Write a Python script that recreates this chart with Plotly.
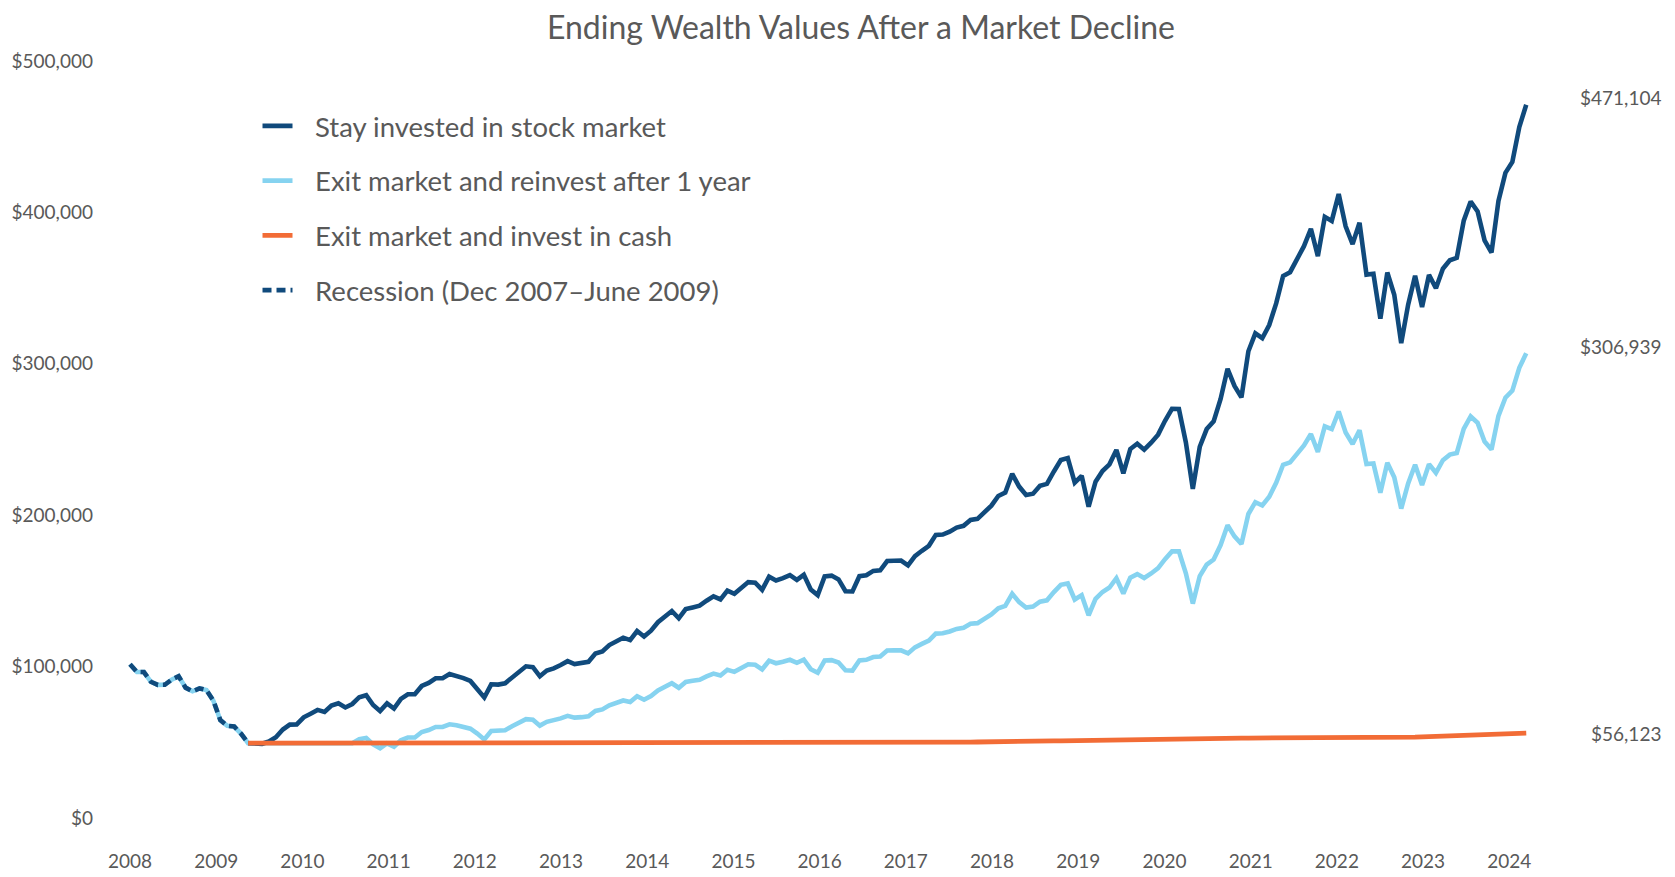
import plotly.graph_objects as go

# ---------------- data (values in thousands of US dollars) ----------------
# Recession segment (market decline), one point per period from the 2007 peak to the low
recession_k = [101.5, 96.4, 96.4, 90.0, 87.9, 88.0, 91.4, 93.6, 86.1, 83.7,
               85.6, 84.5, 77.5, 64.7, 60.9, 60.4, 55.6, 49.4]

# Stay invested in stock market: starts at the low (period index 17)
stay_start = 17
stay_k = [49.4, 49.3, 49.0, 50.5,
          # 2009 Mar-Dec
          53.3, 58.4, 61.7, 61.8, 66.5, 68.9, 71.4, 70.1, 74.3, 75.8,
          # 2010
          73.0, 75.3, 79.8, 81.1, 74.6, 70.7, 75.7, 72.3, 78.7, 81.7, 81.7, 87.2,
          # 2011
          89.2, 92.3, 92.3, 95.1, 94.0, 92.4, 90.5, 85.6, 79.6, 88.3, 88.1, 89.0,
          # 2012
          93.0, 97.0, 100.2, 99.6, 93.6, 97.4, 98.8, 101.0, 103.6, 101.7, 102.3, 103.2,
          # 2013
          108.6, 110.0, 114.2, 116.4, 119.1, 117.5, 123.5, 119.9, 123.7, 129.3, 133.3, 136.7,
          # 2014
          131.9, 138.0, 139.1, 140.2, 143.5, 146.4, 144.4, 150.2, 148.1, 151.7, 155.8, 155.4,
          # 2015
          150.7, 159.4, 156.9, 158.4, 160.4, 157.3, 160.6, 150.9, 147.2, 159.6, 160.1, 157.6,
          # 2016
          149.8, 149.6, 159.7, 160.3, 163.2, 163.6, 169.7, 169.9, 170.0, 166.9, 173.0, 176.5,
          # 2017
          179.8, 187.0, 187.2, 189.1, 191.8, 193.0, 196.9, 197.6, 201.6, 206.3, 212.7, 215.0,
          # 2018
          227.3, 218.9, 213.4, 214.2, 219.4, 220.7, 228.9, 236.4, 237.7, 221.5, 226.0, 205.6,
          # 2019
          222.1, 229.2, 233.6, 243.1, 227.7, 243.7, 247.2, 243.3, 247.9, 253.2, 262.4, 270.3,
          # 2020
          270.2, 248.0, 217.4, 245.2, 256.9, 262.0, 276.8, 296.7, 285.4, 277.8, 308.3, 320.1,
          # 2021
          316.9, 325.6, 339.9, 358.0, 360.5, 368.9, 377.7, 389.2, 371.1, 397.1, 394.4, 412.1,
          # 2022
          390.8, 379.1, 393.1, 358.9, 359.5, 329.8, 360.3, 345.6, 313.7, 339.1, 358.1, 337.5,
          # 2023
          358.7, 349.9, 362.8, 368.4, 370.0, 394.5, 407.1, 400.6, 381.5, 373.5, 407.6, 426.1,
          # 2024 Jan-Mar
          433.3, 456.4, 471.1]

# Exit market and reinvest after 1 year: full history from period index 0
reinvest_k = [101.5, 96.4, 96.4, 90.0, 87.9, 88.0, 91.4, 93.6, 86.1, 83.7,
              85.6, 84.5, 77.5, 64.7, 60.9, 60.4, 55.6, 49.4,
              # held in cash for one year
              49.4, 49.4, 49.4, 49.4, 49.4, 49.4, 49.4, 49.4, 49.4, 49.4, 49.4, 49.4, 49.4, 49.4,
              # 2010 Feb-Dec (reinvested)
              49.4, 52.0, 52.8, 48.6, 46.1, 49.3, 47.1, 51.3, 53.2, 53.2, 56.8,
              # 2011
              58.1, 60.1, 60.2, 61.9, 61.2, 60.2, 59.0, 55.8, 51.9, 57.5, 57.4, 58.0,
              # 2012
              60.6, 63.2, 65.3, 64.9, 61.0, 63.5, 64.4, 65.8, 67.5, 66.3, 66.6, 67.2,
              # 2013
              70.7, 71.7, 74.4, 75.8, 77.6, 76.6, 80.4, 78.1, 80.6, 84.3, 86.8, 89.0,
              # 2014
              86.0, 89.9, 90.6, 91.3, 93.5, 95.4, 94.1, 97.9, 96.5, 98.8, 101.5, 101.2,
              # 2015
              98.2, 103.9, 102.2, 103.2, 104.5, 102.5, 104.6, 98.3, 95.9, 104.0, 104.3, 102.7,
              # 2016
              97.6, 97.4, 104.1, 104.5, 106.3, 106.6, 110.6, 110.7, 110.7, 108.7, 112.7, 115.0,
              # 2017
              117.2, 121.8, 122.0, 123.2, 124.9, 125.7, 128.3, 128.7, 131.4, 134.4, 138.5, 140.1,
              # 2018
              148.1, 142.6, 139.0, 139.6, 142.9, 143.8, 149.2, 154.0, 154.9, 144.3, 147.2, 133.9,
              # 2019
              144.7, 149.3, 152.2, 158.4, 148.3, 158.8, 161.1, 158.5, 161.5, 165.0, 171.0, 176.1,
              # 2020
              176.1, 161.6, 141.6, 159.8, 167.4, 170.7, 180.3, 193.3, 186.0, 181.0, 200.8, 208.6,
              # 2021
              206.4, 212.2, 221.4, 233.3, 234.9, 240.4, 246.1, 253.6, 241.8, 258.7, 256.9, 268.5,
              # 2022
              254.6, 247.0, 256.1, 233.8, 234.2, 214.9, 234.7, 225.1, 204.4, 221.0, 233.3, 219.9,
              # 2023
              233.7, 228.0, 236.3, 240.0, 241.1, 257.0, 265.2, 261.0, 248.6, 243.4, 265.6, 277.6,
              # 2024 Jan-Mar
              282.3, 297.4, 306.9]

# Exit market and invest in cash: starts at the low (period index 17)
cash_start = 17
cash_k = [49.4, 49.4, 49.4, 49.4,
          # 2009 Mar-Dec
          49.4, 49.4, 49.4, 49.4, 49.4, 49.4, 49.4, 49.4, 49.4, 49.4,
          # 2010
          49.4, 49.4, 49.4, 49.4, 49.4, 49.4, 49.5, 49.5, 49.5, 49.5, 49.5, 49.5,
          # 2011
          49.5, 49.5, 49.5, 49.5, 49.5, 49.5, 49.5, 49.5, 49.5, 49.5, 49.5, 49.5,
          # 2012
          49.5, 49.5, 49.5, 49.5, 49.5, 49.5, 49.6, 49.6, 49.6, 49.6, 49.6, 49.6,
          # 2013
          49.6, 49.6, 49.6, 49.6, 49.6, 49.6, 49.6, 49.6, 49.6, 49.6, 49.6, 49.6,
          # 2014
          49.6, 49.6, 49.6, 49.6, 49.6, 49.6, 49.6, 49.6, 49.6, 49.6, 49.6, 49.6,
          # 2015
          49.6, 49.6, 49.6, 49.6, 49.6, 49.6, 49.6, 49.6, 49.6, 49.6, 49.6, 49.7,
          # 2016
          49.7, 49.7, 49.7, 49.7, 49.7, 49.8, 49.8, 49.8, 49.8, 49.8, 49.9, 49.9,
          # 2017
          49.9, 49.9, 50.0, 50.0, 50.0, 50.1, 50.1, 50.2, 50.2, 50.3, 50.3, 50.4,
          # 2018
          50.4, 50.5, 50.6, 50.6, 50.7, 50.8, 50.9, 51.0, 51.1, 51.2, 51.3, 51.4,
          # 2019
          51.5, 51.6, 51.7, 51.8, 51.9, 52.0, 52.1, 52.2, 52.3, 52.4, 52.5, 52.6,
          # 2020
          52.6, 52.7, 52.8, 52.8, 52.8, 52.8, 52.8, 52.8, 52.8, 52.8, 52.8, 52.8,
          # 2021
          52.8, 52.8, 52.8, 52.8, 52.8, 52.8, 52.8, 52.8, 52.8, 52.8, 52.8, 52.8,
          # 2022
          52.8, 52.8, 52.8, 52.8, 52.9, 52.9, 53.0, 53.1, 53.2, 53.3, 53.4, 53.6,
          # 2023
          53.8, 53.9, 54.1, 54.3, 54.5, 54.7, 54.9, 55.0, 55.2, 55.4, 55.5, 55.7,
          # 2024 Jan-Mar
          55.8, 56.0, 56.1]

year_labels = ["2008", "2009", "2010", "2011", "2012", "2013", "2014", "2015", "2016",
               "2017", "2018", "2019", "2020", "2021", "2022", "2023", "2024"]
y_tick_vals = [0, 100, 200, 300, 400, 500]
y_tick_labels = ["$0", "$100,000", "$200,000", "$300,000", "$400,000", "$500,000"]
end_labels = ["$471,104", "$306,939", "$56,123"]

series_names = ["Stay invested in stock market",
                "Exit market and reinvest after 1 year",
                "Exit market and invest in cash",
                "Recession (Dec 2007\u2013June 2009)"]

# ---------------- styling ----------------
DARK = "#104A7C"
LIGHT = "#86D3F0"
ORANGE = "#F26C36"
TEXT = "#595959"
FONT = "Lato"
YEAR_STEP = 12.41  # spacing of the year labels along the period axis
GAP = "\u00a0\u00a0\u2009"  # extra space between legend line sample and its label

fig = go.Figure()

fig.add_trace(go.Scatter(
    x=list(range(len(reinvest_k))), y=reinvest_k, mode="lines",
    name=GAP + series_names[1], legendrank=2, legendgroup="g2",
    line=dict(color=LIGHT, width=4.6), hoverinfo="skip"))

fig.add_trace(go.Scatter(
    x=list(range(stay_start, stay_start + len(stay_k))), y=stay_k, mode="lines",
    name=GAP + series_names[0], legendrank=1, legendgroup="g1",
    line=dict(color=DARK, width=4.6), hoverinfo="skip"))

fig.add_trace(go.Scatter(
    x=list(range(len(recession_k))), y=recession_k, mode="lines",
    name=GAP + series_names[3], legendrank=4, legendgroup="g4",
    line=dict(color=DARK, width=4.6, dash="9px,5px"), hoverinfo="skip"))

fig.add_trace(go.Scatter(
    x=list(range(cash_start, cash_start + len(cash_k))), y=cash_k, mode="lines",
    name=GAP + series_names[2], legendrank=3, legendgroup="g3",
    line=dict(color=ORANGE, width=4.8), hoverinfo="skip"))

# ending value labels
ends = [stay_k[-1], reinvest_k[-1], cash_k[-1]]
shifts = [7, 7, 0]
for lab, yv, sh in zip(end_labels, ends, shifts):
    fig.add_annotation(x=1.0817, xref="paper", y=yv, yref="y", yshift=sh,
                       text=lab, showarrow=False, xanchor="right", yanchor="middle",
                       font=dict(family=FONT, size=19, color=TEXT))

fig.update_layout(
    width=1667, height=869,
    margin=dict(l=92, r=130, t=32, b=31, autoexpand=False),
    paper_bgcolor="white", plot_bgcolor="white",
    title=dict(text="Ending Wealth Values After a Market Decline",
               x=0.5117, xref="container", y=0.9776, yref="container",
               xanchor="center", yanchor="middle",
               font=dict(family=FONT, size=32, color=TEXT)),
    legend=dict(x=0.109, y=0.9237, xanchor="left", yanchor="top",
                font=dict(family=FONT, size=27.5, color=TEXT),
                tracegroupgap=16, bgcolor="rgba(0,0,0,0)"),
    showlegend=True,
)

fig.update_xaxes(range=[-4.32, 203.7], showgrid=False, zeroline=False, showline=False,
                 automargin=False, ticks="", ticklabelstandoff=2,
                 tickvals=[i * YEAR_STEP for i in range(len(year_labels))],
                 ticktext=year_labels, tickfont=dict(family=FONT, size=19, color=TEXT))
fig.update_yaxes(range=[-18.5, 513.87], showgrid=False, zeroline=False, showline=False,
                 automargin=False, ticks="", tickvals=y_tick_vals, ticktext=y_tick_labels,
                 ticklabelstandoff=6,
                 tickfont=dict(family=FONT, size=19, color=TEXT))

fig.write_html("out.html")
